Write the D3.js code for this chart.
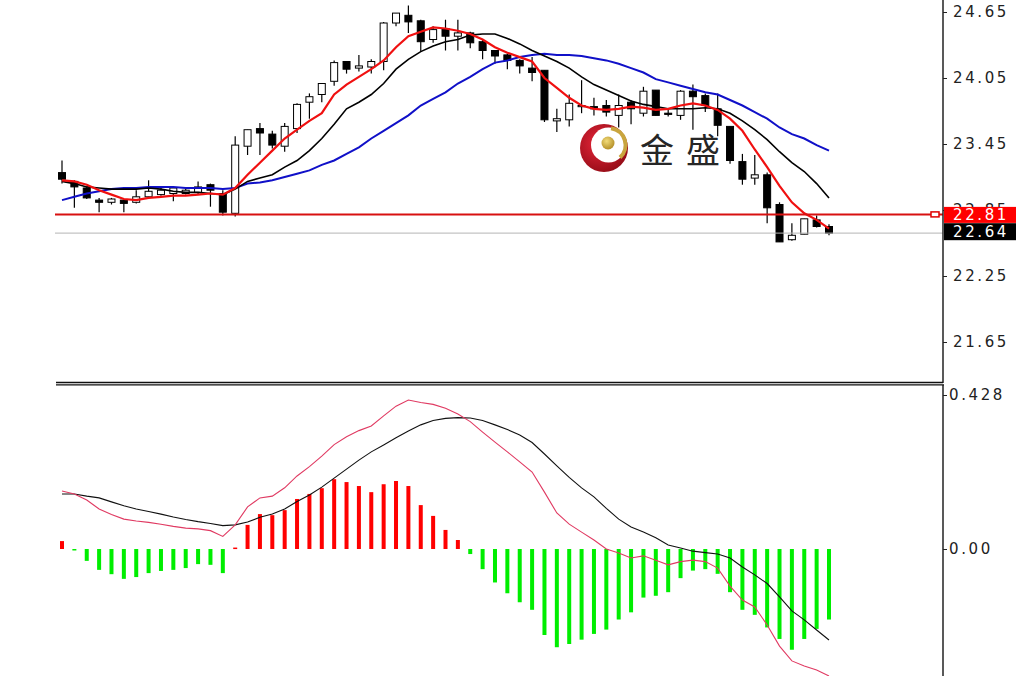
<!DOCTYPE html>
<html><head><meta charset="utf-8">
<script src="https://cdn.jsdelivr.net/npm/d3@7/dist/d3.min.js"></script>
<style>body{margin:0;background:#fff}svg{display:block}</style>
</head><body><svg id="c" width="1016" height="685"></svg>
<script>
// ---------- data ----------
const openP  = [23.19,23.11,23.05,22.94,22.92,22.94,22.92,22.97,22.99,23.00, 23.00,23.01,23.08,23.00,22.82,23.43,23.59,23.54,23.43,23.59, 23.83,23.90,24.02,24.20,24.14,24.15,24.20,24.55,24.62,24.57, 24.40,24.50,24.43,24.46,24.38,24.30,24.26,24.21,24.14,24.12, 23.66,23.67,23.79,23.79,23.80,23.71,23.83,23.73,23.94,23.73, 23.71,23.93,23.89,23.77,23.61,23.29,23.14,23.17,22.90,22.58, 22.63,22.76,22.70];
const highP  = [23.30,23.12,23.06,22.96,22.96,22.94,23.03,23.12,23.06,23.06, 23.04,23.11,23.09,23.03,23.52,23.58,23.64,23.57,23.64,23.82, 23.91,24.00,24.21,24.20,24.26,24.22,24.56,24.64,24.71,24.58, 24.52,24.58,24.58,24.47,24.40,24.30,24.27,24.22,24.24,24.12, 23.77,23.90,24.03,23.87,23.85,23.90,23.85,23.97,23.94,23.77, 23.94,23.99,23.91,23.91,23.61,23.36,23.35,23.19,22.92,22.73, 22.77,22.80,22.72];
const lowP   = [23.09,22.87,22.95,22.83,22.90,22.83,22.91,22.96,22.98,22.93, 22.99,22.99,22.88,22.80,22.79,23.35,23.35,23.41,23.38,23.55, 23.68,23.83,23.98,24.09,24.11,24.09,24.12,24.52,24.46,24.29, 24.37,24.30,24.30,24.32,24.22,24.18,24.13,24.09,24.02,23.65, 23.56,23.61,23.73,23.71,23.70,23.60,23.63,23.70,23.71,23.70, 23.67,23.58,23.74,23.52,23.27,23.08,23.08,22.73,22.56,22.57, 22.63,22.69,22.62];
const closeP = [23.13,23.06,22.96,22.92,22.95,22.91,22.97,23.02,23.03,23.05, 23.03,23.06,23.03,22.83,23.44,23.58,23.55,23.44,23.61,23.81, 23.88,24.00,24.19,24.13,24.16,24.20,24.55,24.64,24.56,24.38, 24.49,24.43,24.46,24.37,24.30,24.25,24.21,24.16,24.10,23.67, 23.68,23.82,23.80,23.77,23.74,23.80,23.77,23.93,23.71,23.72, 23.93,23.88,23.80,23.62,23.30,23.13,23.17,22.87,22.56,22.62, 22.77,22.70,22.64];

const maFast = [23.12,23.11,23.08,23.03,22.99,22.95,22.94,22.96,22.97,22.98, 22.98,22.99,23.00,22.99,23.05,23.17,23.28,23.39,23.50,23.58, 23.66,23.73,23.90,23.99,24.06,24.13,24.21,24.33,24.43,24.47, 24.51,24.50,24.48,24.45,24.40,24.33,24.28,24.24,24.20,24.05, 23.96,23.87,23.80,23.77,23.76,23.77,23.79,23.78,23.76,23.77, 23.80,23.82,23.80,23.76,23.68,23.57,23.40,23.24,23.07,22.92, 22.82,22.76,22.68];
const maMid  = [23.11,23.09,23.06,23.05,23.04,23.04,23.04,23.05,23.04,23.02, 23.01,23.01,23.00,22.99,23.04,23.11,23.14,23.17,23.24,23.30, 23.39,23.50,23.63,23.77,23.83,23.90,24.00,24.13,24.22,24.29, 24.34,24.38,24.40,24.44,24.45,24.45,24.41,24.36,24.30,24.25, 24.20,24.14,24.06,23.99,23.94,23.89,23.84,23.81,23.79,23.77, 23.77,23.77,23.78,23.77,23.73,23.66,23.58,23.49,23.38,23.28, 23.20,23.09,22.96];
const maSlow = [22.94,22.97,23.00,23.02,23.04,23.05,23.05,23.06,23.06,23.06, 23.05,23.05,23.05,23.04,23.05,23.09,23.10,23.12,23.15,23.18, 23.21,23.26,23.30,23.36,23.42,23.50,23.57,23.64,23.71,23.80, 23.86,23.92,24.00,24.06,24.13,24.19,24.21,24.24,24.26,24.27, 24.26,24.26,24.25,24.23,24.21,24.18,24.14,24.10,24.04,24.01, 23.98,23.95,23.92,23.90,23.85,23.80,23.74,23.68,23.60,23.54, 23.50,23.44,23.39];

const macdDif = [0.161,0.153,0.136,0.111,0.096,0.083,0.078,0.074,0.069,0.063, 0.058,0.056,0.051,0.035,0.067,0.117,0.142,0.147,0.170,0.203, 0.229,0.258,0.290,0.312,0.329,0.342,0.370,0.397,0.414,0.407, 0.402,0.391,0.375,0.354,0.325,0.297,0.270,0.242,0.214,0.158, 0.100,0.069,0.047,0.025,0.000,-0.011,-0.025,-0.019,-0.031,-0.044, -0.035,-0.031,-0.035,-0.053,-0.103,-0.142,-0.161,-0.211,-0.270,-0.311, -0.325,-0.336,-0.353];
const macdSig = [0.153,0.153,0.147,0.142,0.131,0.120,0.111,0.104,0.097,0.089, 0.082,0.076,0.071,0.065,0.067,0.075,0.088,0.097,0.111,0.132, 0.150,0.172,0.197,0.222,0.247,0.270,0.289,0.309,0.328,0.345, 0.357,0.363,0.365,0.364,0.357,0.345,0.332,0.317,0.296,0.264, 0.231,0.199,0.170,0.145,0.113,0.083,0.061,0.047,0.031,0.011, 0.003,-0.006,-0.010,-0.014,-0.025,-0.050,-0.072,-0.096,-0.133,-0.172, -0.197,-0.225,-0.253];
const macdHist = [0.022,-0.004,-0.033,-0.058,-0.070,-0.083,-0.078,-0.067,-0.061,-0.058, -0.053,-0.042,-0.044,-0.067,0.004,0.067,0.097,0.094,0.108,0.139, 0.153,0.169,0.194,0.186,0.175,0.158,0.180,0.189,0.175,0.122, 0.092,0.053,0.025,-0.014,-0.056,-0.093,-0.123,-0.148,-0.169,-0.239, -0.273,-0.264,-0.252,-0.236,-0.224,-0.196,-0.176,-0.135,-0.130,-0.120, -0.081,-0.060,-0.056,-0.069,-0.120,-0.169,-0.183,-0.218,-0.250,-0.280, -0.250,-0.222,-0.196];

const priceTicks = [24.65, 24.05, 23.45, 22.85, 22.25, 21.65];
const macdTicks = [0.428, 0];
const macdTickLabels = ["0.428", "0.00"];
const linePrice = 22.81;
const lastPrice = 22.64;
const logoText = ["金", "盛"];

// ---------- drawing ----------
const svg = d3.select('#c');
svg.append('rect').attr('width',1016).attr('height',685).attr('fill','#fff');

const n = closeP.length;
const x = d3.scaleLinear().domain([0, n-1]).range([62, 829]);
const y = d3.scaleLinear().domain([21.65, 24.65]).range([342, 12]);
const ym = d3.scaleLinear().domain([0, 0.428]).range([549, 395]);
const AX = 943, LEFT = 55;

const defs = svg.append('defs');
defs.append('clipPath').attr('id','cpMain').append('rect').attr('x',LEFT).attr('y',0).attr('width',AX-LEFT).attr('height',381);
defs.append('clipPath').attr('id','cpMacd').append('rect').attr('x',LEFT).attr('y',386).attr('width',AX-LEFT).attr('height',290);
const rg = defs.append('radialGradient').attr('id','redG').attr('cx','40%').attr('cy','40%').attr('r','70%');
rg.append('stop').attr('offset','0%').attr('stop-color','#e8263a');
rg.append('stop').attr('offset','100%').attr('stop-color','#8e0a14');
const gg = defs.append('radialGradient').attr('id','goldG').attr('cx','40%').attr('cy','35%').attr('r','70%');
gg.append('stop').attr('offset','0%').attr('stop-color','#f2dc7a');
gg.append('stop').attr('offset','100%').attr('stop-color','#b08a22');

// watermark logo
const logo = svg.append('g').attr('transform','translate(604,148)');
logo.append('circle').attr('r',24).attr('fill','url(#redG)');
logo.append('circle').attr('cx',4.5).attr('cy',-3).attr('r',17.5).attr('fill','#fff');
const arc = d3.arc().innerRadius(15).outerRadius(19).startAngle(0.15).endAngle(2.4);
logo.append('path').attr('d',arc()).attr('transform','translate(4.5,-3)').attr('fill','#c9a53e');
logo.append('circle').attr('cx',4).attr('cy',-5).attr('r',6.5).attr('fill','url(#goldG)');
svg.selectAll('text.logo').data(logoText).enter().append('text').attr('class','logo')
  .attr('x',(d,i)=>640+i*46).attr('y',163)
  .attr('font-family','"Noto Sans CJK SC", sans-serif').attr('font-size',34)
  .attr('fill','#262626').text(d=>d);

// main panel
const main = svg.append('g').attr('clip-path','url(#cpMain)');
const idx = d3.range(n);
const cg = main.append('g');
cg.selectAll('line.wick').data(idx).enter().append('line')
  .attr('x1',i=>x(i)).attr('x2',i=>x(i))
  .attr('y1',i=>y(highP[i])).attr('y2',i=>y(lowP[i]))
  .attr('stroke','#000').attr('stroke-width',1.2);
cg.selectAll('rect.body').data(idx).enter().append('rect')
  .attr('x',i=>x(i)-3.5).attr('width',7)
  .attr('y',i=>y(Math.max(openP[i],closeP[i])))
  .attr('height',i=>Math.max(1.2, Math.abs(y(openP[i])-y(closeP[i]))))
  .attr('fill',i=>closeP[i]>=openP[i] ? '#fff' : '#000')
  .attr('stroke','#000').attr('stroke-width',1);

const lineP = d3.line().x((d,i)=>x(i)).y(d=>y(d));
main.append('path').attr('d',lineP(maSlow)).attr('fill','none').attr('stroke','#1010c8').attr('stroke-width',2);
main.append('path').attr('d',lineP(maMid)).attr('fill','none').attr('stroke','#000').attr('stroke-width',1.6);
main.append('path').attr('d',lineP(maFast)).attr('fill','none').attr('stroke','#f01010').attr('stroke-width',2.2);

// horizontal price lines
svg.append('line').attr('x1',LEFT).attr('x2',AX).attr('y1',y(lastPrice)).attr('y2',y(lastPrice))
  .attr('stroke','#b4b4b4').attr('stroke-width',1);
svg.append('line').attr('x1',LEFT).attr('x2',AX).attr('y1',y(linePrice)).attr('y2',y(linePrice))
  .attr('stroke','#d81010').attr('stroke-width',2);
svg.append('rect').attr('x',931).attr('y',y(linePrice)-2.5).attr('width',8).attr('height',5)
  .attr('fill','#fff').attr('stroke','#e00000').attr('stroke-width',1.5);

// MACD panel
const mg = svg.append('g').attr('clip-path','url(#cpMacd)');
mg.selectAll('rect.hist').data(idx).enter().append('rect')
  .attr('x',i=>x(i)-2).attr('width',4)
  .attr('y',i=>macdHist[i]>=0 ? ym(macdHist[i]) : ym(0))
  .attr('height',i=>Math.max(1.5, Math.abs(ym(macdHist[i])-ym(0))))
  .attr('fill',i=>macdHist[i]>=0 ? '#ff0000' : '#00ee00');
const lineM = d3.line().x((d,i)=>x(i)).y(d=>ym(d));
mg.append('path').attr('d',lineM(macdSig)).attr('fill','none').attr('stroke','#111').attr('stroke-width',1.1);
mg.append('path').attr('d',lineM(macdDif)).attr('fill','none').attr('stroke','#e03a62').attr('stroke-width',1.1);

// frame / separators
svg.append('line').attr('x1',AX).attr('x2',AX).attr('y1',0).attr('y2',383).attr('stroke','#222').attr('stroke-width',1.5);
svg.append('line').attr('x1',AX).attr('x2',AX).attr('y1',385).attr('y2',676).attr('stroke','#222').attr('stroke-width',1.5);
svg.append('line').attr('x1',56).attr('x2',AX).attr('y1',382.5).attr('y2',382.5).attr('stroke','#111').attr('stroke-width',1.3);
svg.append('line').attr('x1',56).attr('x2',AX+1).attr('y1',384.8).attr('y2',384.8).attr('stroke','#111').attr('stroke-width',1.3);

// axes
function styleAxis(g){
  g.select('.domain').remove();
  g.selectAll('.tick line').attr('stroke','#222').attr('stroke-width',1);
  g.selectAll('.tick text').attr('fill','#222').attr('font-family','"DejaVu Sans", Verdana, sans-serif')
    .attr('font-size',15).attr('letter-spacing','2.6px').attr('text-anchor','start');
}
svg.append('g').attr('transform',`translate(${AX},0)`)
  .call(d3.axisRight(y).tickValues(priceTicks).tickFormat(d3.format('.2f')).tickSize(4).tickPadding(6))
  .call(styleAxis);
svg.append('g').attr('transform',`translate(${AX},0)`)
  .call(d3.axisRight(ym).tickValues(macdTicks).tickFormat((d,i)=>macdTickLabels[i]).tickSize(4).tickPadding(2))
  .call(styleAxis);

// price labels
function priceTag(p, bg, top, h){
  svg.append('rect').attr('x',AX+1).attr('y',top).attr('width',1016-AX-1).attr('height',h).attr('fill',bg);
  svg.append('text').attr('x',953).attr('y',top+h/2).attr('dy','0.36em')
    .attr('font-family','"DejaVu Sans", Verdana, sans-serif').attr('font-size',15).attr('letter-spacing','2.6px')
    .attr('fill','#fff').text(d3.format('.2f')(p));
}
priceTag(linePrice, '#ff0000', y(linePrice)-7.5, 16);
priceTag(lastPrice, '#000', y(linePrice)+8.8, 17);
</script></body></html>
